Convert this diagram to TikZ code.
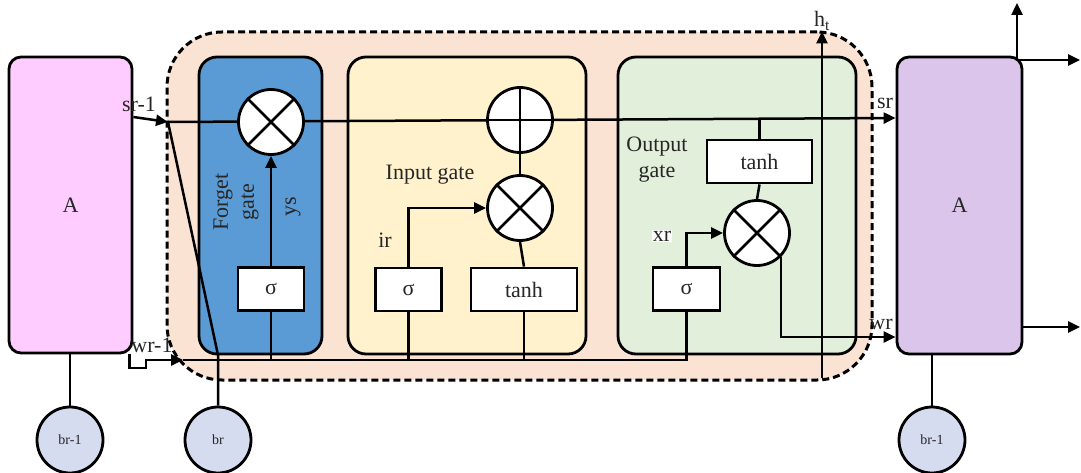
\documentclass[tikz,border=0pt]{standalone}
\usepackage{fontspec}
\setmainfont{Liberation Serif}
\usetikzlibrary{arrows.meta}
\definecolor{peach}{HTML}{FBE3D4}
\definecolor{forgetc}{HTML}{5B9BD5}
\definecolor{inputc}{HTML}{FFF2CC}
\definecolor{outputc}{HTML}{E2EFDA}
\definecolor{pinkA}{HTML}{FFCCFF}
\definecolor{lavA}{HTML}{DCC5EB}
\definecolor{biasc}{HTML}{D6DCF0}
\begin{document}
\begin{tikzpicture}[x=1pt,y=-1pt,
  every node/.style={font=\fontsize{22}{26}\selectfont, text=black!85},
  abox/.style={draw, line width=2.8pt, rounded corners=12pt, minimum width=123pt, minimum height=296pt, inner sep=0pt},
  gatebox/.style={draw, line width=2.8pt, rounded corners=18pt, minimum height=297pt, inner sep=0pt},
  opc/.style={circle, draw, fill=white, line width=2.8pt, minimum size=65pt, inner sep=0pt},
  fnbox/.style={draw, fill=white, line width=2.8pt, minimum height=43pt, inner sep=0pt},
  sigbox/.style={fnbox, minimum width=66pt},
  tanhbox/.style={fnbox, minimum width=106pt},
  bias/.style={circle, draw, fill=biasc, line width=2.8pt, minimum size=66pt, inner sep=0pt, font=\fontsize{14}{16}\selectfont},
  wire/.style={line width=2.5pt},
  arr/.style={wire, -{Triangle[length=12pt,width=11pt]}},
  lbl/.style={inner sep=1pt}
]
\useasboundingbox (0,0) rectangle (1081,473);

% dashed cell region
\node[draw, fill=peach, line width=3pt, dash pattern=on 7pt off 4pt, rounded corners=55pt,
      minimum width=705pt, minimum height=348pt, inner sep=0pt] (cell) at (519.5,206) {};

% gate panels
\node[gatebox, fill=forgetc, minimum width=123pt] (fg) at (260.5,205.5) {};
\node[gatebox, fill=inputc, minimum width=238pt] (ig) at (467,205.5) {};
\node[gatebox, fill=outputc, minimum width=238pt] (og) at (737,205.5) {};

% neighbouring units and their biases
\node[abox, fill=pinkA] (AL) at (70.5,205) {A};
\node[abox, fill=lavA, minimum width=125pt, minimum height=297pt] (AR) at (959.5,205.5) {A};
\node[bias] (brL) at (70,440) {br-1};
\node[bias] (br) at (218,440) {br};
\node[bias] (brR) at (932,440) {br-1};
\draw[wire] (brL.north) -- (brL.north |- AL.south);
\draw[wire] (brR.north) -- (brR.north |- AR.south);

% cell state
\coordinate (sj) at (168,122);
\draw[arr] (AL.east |- 0,117) -- (sj);
\draw[arr] (sj) -- (AR.west |- 0,118);
\draw[wire] (sj) -- (218,355) -- (br.north);

% operators
\node[opc] (fx) at (271,122) {};
\draw[wire] (fx.north east) -- (fx.south west) (fx.north west) -- (fx.south east);
\node[opc] (ip) at (520,120) {};
\draw[wire] (ip.north) -- (ip.south) (ip.west) -- (ip.east);
\node[opc] (ix) at (520,208) {};
\draw[wire] (ix.north east) -- (ix.south west) (ix.north west) -- (ix.south east);
\node[opc] (ox) at (757,233) {};
\draw[wire] (ox.north east) -- (ox.south west) (ox.north west) -- (ox.south east);

% activation boxes
\node[sigbox] (fs) at (271,289) {σ};
\node[sigbox] (is) at (408.5,289.5) {σ};
\node[tanhbox] (it) at (524,289.5) {tanh};
\node[tanhbox, minimum width=105pt] (ot) at (759.5,161.5) {tanh};
\node[sigbox, minimum width=67pt] (os) at (686.5,289) {σ};

% lower input bus
\coordinate (wj) at (183,360);
\draw[arr] (AL.south east) ++(-4,0) |- (146,368) |- (wj);
\draw[wire] (wj) -- (os.south |- wj) -- (os.south);
\draw[wire] (fs.south) -- (fs.south |- wj);
\draw[wire] (is.south) -- (is.south |- wj);
\draw[wire] (it.south) -- (it.south |- wj);

% forget gate
\draw[arr] (fs.north) -- (fx.south);

% input gate
\draw[arr] (is.north) |- (ix.west);
\draw[wire] (it.north) -- (ix.south);
\draw[wire] (ix.north) -- (ip.south);

% output gate
\draw[wire] (ot.north) -- (ot.north |- 0,119);
\draw[wire] (ot.south) -- (ox.north);
\draw[arr] (os.north) |- (ox.west);
\draw[arr] (ox.-45) |- (AR.west |- 0,337);

% hidden output
\node[lbl] (ht) at (822,21) {h\textsubscript{t}};
\coordinate (hb) at (822,378);
\draw[arr] (hb) -- (ht.south);

% outputs of the next unit
\coordinate (oc) at (1017,60);
\coordinate (oup) at (1017,3);
\coordinate (oright) at (1080,60);
\coordinate (obot) at (1080,327);
\draw[arr] (oc) -- (oup);
\draw[arr] (oc) -- (oright);
\draw[arr] (AR.east |- obot) -- (obot);

% labels
\node[lbl] (lsr1) at (139,104) {sr-1};
\node[lbl] (lwr1) at (152,345) {wr-1};
\node[lbl] (lsr) at (885,103) {sr};
\node[lbl] (lwr) at (881,324) {wr};
\node[lbl, rotate=90] (lys) at (293,207) {ys};
\node[lbl, rotate=90, align=center] (lfg) at (236,202) {Forget\\gate};
\node[lbl] (lig) at (430,175) {Input gate};
\node[lbl] (lir) at (385,240) {ir};
\node[lbl, align=center] (log) at (657,160) {Output\\gate};
\node[lbl, fill=white] (lxr) at (662,236) {xr};
\end{tikzpicture}
\end{document}
